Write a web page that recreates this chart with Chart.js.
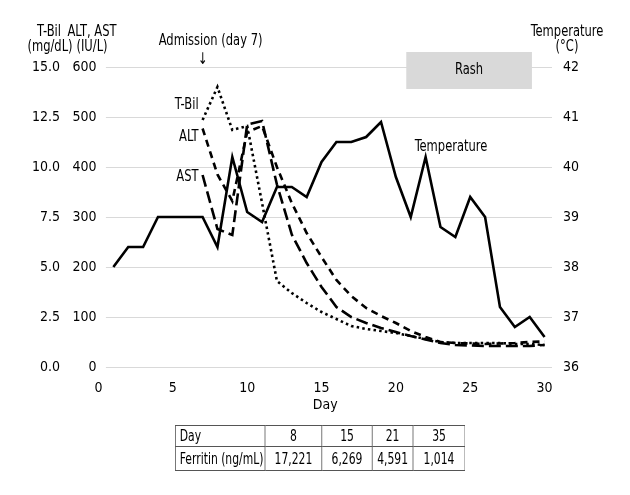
<!DOCTYPE html>
<html><head><meta charset="utf-8">
<script src="https://cdn.jsdelivr.net/npm/chart.js@4"></script>
<style>
html,body{margin:0;padding:0;background:#fff;}
#wrap{position:relative;width:630px;height:495px;overflow:hidden;}
canvas{position:absolute;left:0;top:0;}
#tbl{position:absolute;left:175px;top:425px;border-collapse:collapse;table-layout:fixed;width:362px;
 transform:scaleX(0.8);transform-origin:0 0;
 font-family:'DejaVu Sans Condensed','DejaVu Sans',sans-serif;font-size:15px;color:#000;}
#tbl td{border:1px solid #555;padding:0 5px;text-align:center;white-space:nowrap;overflow:hidden;line-height:18px;}
#tbl td.h{text-align:left;}
#tbl tr.r1 td{height:20px;}
#tbl tr.r2 td{height:23px;}
</style></head>
<body><div id="wrap"><canvas id="c" width="630" height="495"></canvas>
<table id="tbl"><colgroup><col style="width:112px"><col style="width:71px"><col style="width:63px"><col style="width:51px"><col style="width:65px"></colgroup></table></div>
<script>
const FONT = "'DejaVu Sans Condensed','DejaVu Sans',sans-serif";

// ---- data ----
const tempDays   = [1,2,3,4,5,6,7,8,9,10,11,12,13,14,15,16,17,18,19,20,21,22,23,24,25,26,27,28,29,30];
const tempValues = [38.0,38.4,38.4,39.0,39.0,39.0,39.0,38.4,40.2,39.1,38.9,39.6,39.6,39.4,40.1,40.5,40.5,40.6,40.9,39.8,39.0,40.2,38.8,38.6,39.4,39.0,37.2,36.8,37.0,36.6];
const labDays    = [7,8,9,10,11,12,13,14,15,16,17,18,19,20,21,22,23,24,25,26,27,28,29,30];
const bilValues  = [12.35,14.0,11.85,12.05,8.2,4.3,3.7,3.2,2.75,2.4,2.05,1.9,1.8,1.7,1.55,1.4,1.25,1.2,1.2,1.2,1.2,1.15,1.15,1.1];
const altValues  = [477,385,332,470,482,400,328,268,220,174,142,118,102,88,72,60,50,48,47,46,47,48,50,51];
const astValues  = [384,276,264,485,492,365,265,208,160,120,100,88,78,70,62,55,48,44,43,42,42,42,42,44];
const xTickValues = [0,5,10,15,20,25,30];
const rashDays = [20.7, 29.15];
const admissionDay = 7;
const ferritinDays = [8,15,21,35];
const ferritinValues = [17221,6269,4591,1014];

// ---- table ----
const tbl = document.getElementById('tbl');
const r1 = document.createElement('tr'); r1.className='r1';
const r2 = document.createElement('tr'); r2.className='r2';
r1.innerHTML = '<td class="h">Day</td>' + ferritinDays.map(d=>'<td>'+d+'</td>').join('');
r2.innerHTML = '<td class="h">Ferritin (ng/mL)</td>' + ferritinValues.map(v=>'<td>'+v.toLocaleString('en-US')+'</td>').join('');
tbl.appendChild(r1); tbl.appendChild(r2);

const pts = (xs, ys) => xs.map((x,i)=>({x, y: ys[i]}));

const SX = 0.8;
function ctext(ctx, s, x, y, align){
  ctx.save(); ctx.translate(x, y); ctx.scale(SX, 1);
  ctx.textAlign = align || 'center'; ctx.textBaseline = 'middle';
  ctx.fillText(s, 0, 0); ctx.restore();
}

const annot = {
  id: 'annot',
  beforeDatasetsDraw(chart){
    const {ctx, chartArea:a, scales} = chart;
    const x = scales.x, y = scales.y;
    ctx.save();
    ctx.strokeStyle = '#d9d9d9'; ctx.lineWidth = 1;
    const x0 = x.getPixelForValue(0.5);
    y.ticks.forEach(t=>{
      const py = Math.round(y.getPixelForValue(t.value)) + 0.5;
      ctx.beginPath(); ctx.moveTo(x0, py); ctx.lineTo(a.right, py); ctx.stroke();
    });
    const rx0 = x.getPixelForValue(rashDays[0]), rx1 = x.getPixelForValue(rashDays[1]);
    ctx.fillStyle = '#d9d9d9';
    ctx.fillRect(rx0, a.top - 15, rx1 - rx0, 37);
    ctx.fillStyle = '#000';
    ctx.font = '16px ' + FONT;
    ctext(ctx, 'Rash', (rx0+rx1)/2, a.top + 3);
    ctx.restore();
  },
  afterDraw(chart){
    const {ctx, scales} = chart;
    const x = scales.x;
    ctx.save();
    ctx.fillStyle = '#000';
    ctx.font = '16px ' + FONT;
    ctext(ctx, 'T-Bil', 49, 32);
    ctext(ctx, '(mg/dL)', 50, 47);
    ctext(ctx, 'ALT, AST', 92, 32);
    ctext(ctx, '(IU/L)', 92, 47);
    ctext(ctx, 'Temperature', 567, 32);
    ctext(ctx, '(°C)', 567, 47);
    const ax = x.getPixelForValue(admissionDay);
    ctext(ctx, 'Admission (day 7)', ax + 8, 41);
    ctext(ctx, '↓', ax, 60);
    ctext(ctx, 'T-Bil', ax - 4, 105, 'right');
    ctext(ctx, 'ALT', ax - 4, 137, 'right');
    ctext(ctx, 'AST', ax - 4, 177, 'right');
    ctext(ctx, 'Temperature', 451, 147);
    ctx.restore();
  }
};

const tickFont = {family: FONT, size: 14};
new Chart(document.getElementById('c'), {
  type: 'line',
  data: {
    datasets: [
      {label:'Temperature', data: pts(tempDays, tempValues), yAxisID:'y2', borderColor:'#000', borderWidth:2.6, pointRadius:0, tension:0},
      {label:'T-Bil', data: pts(labDays, bilValues), yAxisID:'yb', borderColor:'#000', borderWidth:2.6, borderDash:[2.5,3.2], pointRadius:0, tension:0},
      {label:'ALT', data: pts(labDays, altValues), yAxisID:'y', borderColor:'#000', borderWidth:2.6, borderDash:[7,5], pointRadius:0, tension:0},
      {label:'AST', data: pts(labDays, astValues), yAxisID:'y', borderColor:'#000', borderWidth:2.6, borderDash:[12,5], pointRadius:0, tension:0}
    ]
  },
  options: {
    responsive:false, animation:false,
    layout:{padding:{left:0,right:0,top:67,bottom:80}},
    plugins:{legend:{display:false}, tooltip:{enabled:false}},
    scales:{
      x:{type:'linear', min:0, max:30.5, position:'bottom',
         afterBuildTicks:(s)=>{ s.ticks = xTickValues.map(v=>({value:v})); },
         afterFit:(s)=>{ s.height = 48; },
         grid:{display:false, drawTicks:false}, border:{display:false},
         ticks:{font:tickFont, color:'#000', padding:13, maxRotation:0, autoSkip:false},
         title:{display:true, text:'Day', font:{family:FONT,size:14}, color:'#000', padding:{top:0,bottom:1}}},
      yb:{type:'linear', position:'left', min:0, max:15, weight:1,
         afterFit:(s)=>{ s.width = 63; },
         grid:{display:false, drawTicks:false}, border:{display:false},
         ticks:{stepSize:2.5, font:tickFont, color:'#000', padding:3, callback:v=>Number(v).toFixed(1)}},
      y:{type:'linear', position:'left', min:0, max:600, weight:0,
         afterFit:(s)=>{ s.width = 35.5; },
         grid:{display:false, drawTicks:false}, border:{display:false},
         ticks:{stepSize:100, font:tickFont, color:'#000', padding:2}},
      y2:{type:'linear', position:'right', min:36, max:42,
         afterFit:(s)=>{ s.width = 78; },
         grid:{display:false, drawTicks:false}, border:{display:false},
         ticks:{stepSize:1, font:tickFont, color:'#000', padding:11}}
    }
  },
  plugins:[annot]
});
</script>
</body></html>
